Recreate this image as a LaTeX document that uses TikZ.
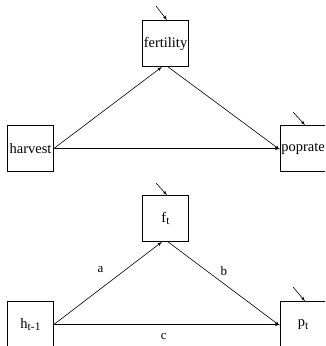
\documentclass[tikz,border=0pt]{standalone}
\usepackage{fontspec}
\setmainfont{Liberation Serif}
\usepackage{tikz}
\tikzset{>=latex}
\usetikzlibrary{arrows}
\newcommand{\lowsub}[1]{\raisebox{-0.4ex}{\fontsize{11.5}{13}\selectfont #1}}

\begin{document}
\begin{tikzpicture}[x=1pt,y=-1pt]
			\tikzset{edge/.style = {->,> = latex', line width=0.6pt}}
			\tikzset{var/.style = {draw, line width=0.7pt, minimum width=46pt, minimum height=46pt, inner sep=1pt, font=\fontsize{14.5}{17}\selectfont}}
			\tikzset{lab/.style = {font=\fontsize{13}{15}\selectfont}}

			\clip (0,0) rectangle (325,346);

			% top model
			\node[var] (fert) at (165.5,43.5) {fertility};
			\node[var] (harv) at (30.5,148.5) {harvest};
			\node[var] (popr) at (303,148.5) {poprate};
			\coordinate (efert) at (156,6);
			\coordinate (epopr) at (293,112);

			\draw[edge] (harv.east) to ([xshift=-3.5pt]fert.south);
			\draw[edge] ([xshift=2.5pt]fert.south) to ([yshift=-1pt]popr.west);
			\draw[edge] (harv.east) to (popr.west);
			\draw[edge] (efert) to ([xshift=1.5pt]fert.north);
			\draw[edge] (epopr) to ([xshift=2pt]popr.north);

			% bottom model
			\node[var] (f) at (165.5,218.5) {f\lowsub{t}};
			\node[var] (h) at (30.5,324.5) {h\lowsub{t-1}};
			\node[var] (p) at (303,324.5) {p\lowsub{t}};
			\coordinate (ef) at (156,183);
			\coordinate (ep) at (293,287);

			\draw[edge] (h.east) to node[lab, midway, shift={(-7.5,-13.5)}] {a} ([xshift=-3.5pt]f.south);
			\draw[edge] ([xshift=2.5pt]f.south) to node[lab, midway, shift={(0,-13)}] {b} ([yshift=-1pt]p.west);
			\draw[edge] (h.east) to node[lab, midway, shift={(-3,12)}] {c} (p.west);
			\draw[edge] (ef) to ([xshift=1.5pt]f.north);
			\draw[edge] (ep) to ([xshift=2pt]p.north);
		\end{tikzpicture}
\end{document}
